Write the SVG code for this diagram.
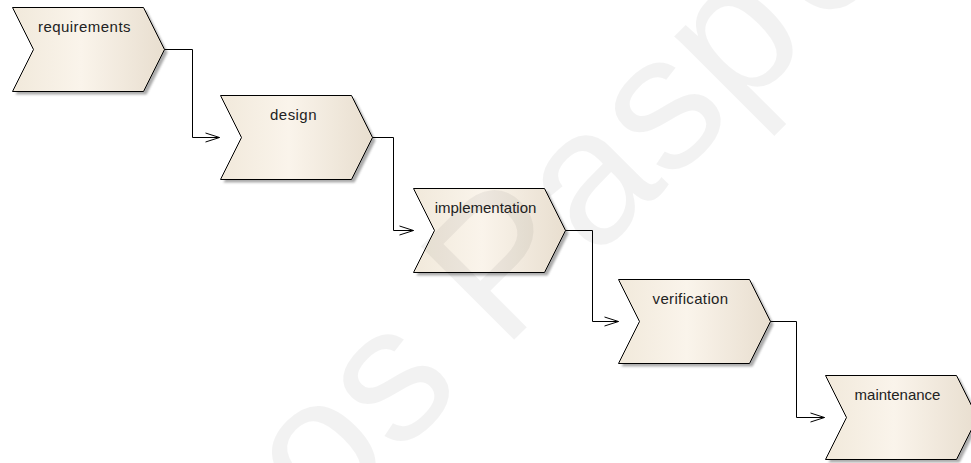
<svg xmlns="http://www.w3.org/2000/svg" xmlns:xlink="http://www.w3.org/1999/xlink" width="971" height="463" viewBox="0 0 971 463">
  <style>
    .shadow { fill: #8f8f8f; opacity: 0.75; filter: url(#soft); }
    .body { fill: url(#beige); stroke: #000; stroke-width: 1; }
    .label { font-family: "Liberation Sans", Arial, sans-serif; font-size: 15px; fill: #222; text-anchor: middle; }
    .flow { fill: none; stroke: #000; stroke-width: 1; marker-end: url(#open); }
    .mark { font-family: "Liberation Sans", Arial, sans-serif; font-size: 192px; fill: #000; fill-opacity: 0.05; }
  </style>
  <defs>
    <linearGradient id="beige" x1="0" y1="0" x2="1" y2="0">
      <stop offset="0" stop-color="#f1e9db"/>
      <stop offset="0.45" stop-color="#faf4eb"/>
      <stop offset="1" stop-color="#e8decf"/>
    </linearGradient>
    <filter id="soft" x="-10%" y="-10%" width="120%" height="120%">
      <feGaussianBlur stdDeviation="1"/>
    </filter>
    <!-- chevron outline: 152 wide, 84 high, 21 deep notch -->
    <polygon id="chev" points="0,0 131,0 152,42 131,84 0,84 21,42"/>
    <marker id="open" markerUnits="userSpaceOnUse" markerWidth="16" markerHeight="12" viewBox="0 0 16 12" refX="15" refY="6" orient="auto">
      <path d="M1,1.5 L15,6 L1,10.5" fill="none" stroke="#000" stroke-width="1"/>
    </marker>
  </defs>

  <rect width="971" height="463" fill="#fff"/>

  <g id="requirements" transform="translate(12.5,7.5)">
    <use xlink:href="#chev" class="shadow" transform="translate(3,3)"/>
    <use xlink:href="#chev" class="body"/>
    <text class="label" x="72" y="24" letter-spacing="0.45">requirements</text>
  </g>

  <g id="design" transform="translate(220.5,95.5)">
    <use xlink:href="#chev" class="shadow" transform="translate(3,3)"/>
    <use xlink:href="#chev" class="body"/>
    <text class="label" x="73" y="24" letter-spacing="0.45">design</text>
  </g>

  <g id="implementation" transform="translate(413.5,188.5)">
    <use xlink:href="#chev" class="shadow" transform="translate(3,3)"/>
    <use xlink:href="#chev" class="body"/>
    <text class="label" x="72" y="24">implementation</text>
  </g>

  <g id="verification" transform="translate(618.5,279.5)">
    <use xlink:href="#chev" class="shadow" transform="translate(3,3)"/>
    <use xlink:href="#chev" class="body"/>
    <text class="label" x="72" y="24" letter-spacing="0.35">verification</text>
  </g>

  <g id="maintenance" transform="translate(825.5,375.5)">
    <use xlink:href="#chev" class="shadow" transform="translate(3,3)"/>
    <use xlink:href="#chev" class="body"/>
    <text class="label" x="72" y="24">maintenance</text>
  </g>

  <g id="connectors">
    <path class="flow" d="M164.5,49.5 H192.5 V137.5 H219.5"/>
    <path class="flow" d="M372.5,137.5 H393.5 V230.5 H413.5"/>
    <path class="flow" d="M565.5,230.5 H592.5 V321.5 H618.5"/>
    <path class="flow" d="M770.5,321.5 H796.5 V417.5 H824.5"/>
  </g>

  <!-- faint diagonal watermark over the sheet -->
  <text class="mark" transform="translate(322,532) rotate(-45)">os Pasp<tspan dx="14">e</tspan></text>
</svg>
